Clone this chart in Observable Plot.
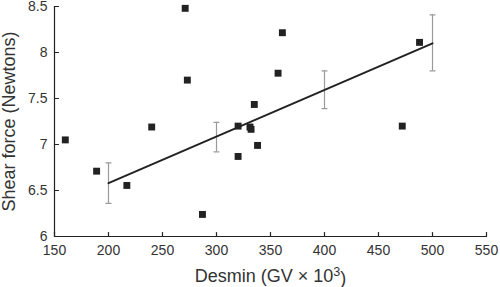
<!DOCTYPE html>
<html>
<head>
<meta charset="utf-8">
<script src="https://cdn.jsdelivr.net/npm/d3@7"></script>
<script src="https://cdn.jsdelivr.net/npm/@observablehq/plot@0.6"></script>
<style>
  html, body { margin: 0; padding: 0; background: #fff; }
  #chart svg { display: block; }
</style>
</head>
<body>
<div id="chart"></div>
<script>
// Scatter data: Desmin (GV × 10³) vs Shear force (Newtons)
const desmin = [160, 189, 217, 240, 271, 273, 287, 320, 331, 332, 335, 338, 320, 357, 361, 472, 488];
const shear  = [7.05, 6.71, 6.555, 7.19, 8.48, 7.70, 6.24, 7.20, 7.19, 7.165, 7.435, 6.99, 6.87, 7.775, 8.215, 7.20, 8.11];

// Regression line endpoints
const fitX = [200, 500];
const fitY = [6.58, 8.10];

// Error bars on the fitted line
const errX  = [200, 300, 400, 500];
const errLo = [6.36, 6.92, 7.39, 7.80];
const errHi = [6.80, 7.24, 7.80, 8.41];

// Tick values
const xTicks = [150, 200, 250, 300, 350, 400, 450, 500, 550];
const yTicks = [6, 6.5, 7, 7.5, 8, 8.5];

const xLabel = "Desmin (GV × 10³)";
const yLabel = "Shear force (Newtons)";

const points = desmin.map((x, i) => ({x, y: shear[i]}));
const fit = fitX.map((x, i) => ({x, y: fitY[i]}));
const errs = errX.map((x, i) => ({x, lo: errLo[i], hi: errHi[i]}));
const caps = errs.flatMap(d => [{x: d.x, y: d.lo}, {x: d.x, y: d.hi}]);

const up = {draw(c, l) { c.moveTo(0, 0); c.lineTo(0, -l); }};

const ink = "#222";
const textInk = "#333";
const errInk = "#9a9a9a";

const chart = Plot.plot({
  width: 500,
  height: 287,
  marginLeft: 54,
  marginRight: 14,
  marginTop: 6,
  marginBottom: 51,
  style: {fontFamily: "'Liberation Sans', Arial, Helvetica, sans-serif", fontSize: "14px", color: textInk, background: "#fff", overflow: "visible"},
  x: {domain: [150, 550]},
  y: {domain: [6, 8.5]},
  marks: [
    Plot.axisX({ticks: xTicks, tickSize: 0, tickPadding: 9, tickFormat: d => String(d),
      label: null, fontSize: 14}),
    Plot.axisY({ticks: yTicks, tickSize: 0, tickPadding: 7, tickFormat: d => String(d),
      label: null, fontSize: 14}),
    Plot.axisX({ticks: [], label: xLabel, labelAnchor: "center", labelArrow: "none", labelOffset: 45, fontSize: 18}),
    Plot.axisY({ticks: [], label: yLabel, labelAnchor: "center", labelArrow: "none", labelOffset: 52, fontSize: 18, dy: -8}),
    // axis lines
    Plot.ruleX([150], {stroke: ink, strokeWidth: 1.2}),
    Plot.ruleY([6], {stroke: ink, strokeWidth: 1.2}),
    // inward ticks
    Plot.vector(xTicks, {x: d => d, y: 6, length: 4, rotate: 0, anchor: "start", shape: up, stroke: ink, strokeWidth: 1.2}),
    Plot.vector(yTicks, {x: 150, y: d => d, length: 4, rotate: 90, anchor: "start", shape: up, stroke: ink, strokeWidth: 1.2}),
    // error bars
    Plot.ruleX(errs, {x: "x", y1: "lo", y2: "hi", stroke: errInk, strokeWidth: 1.2}),
    Plot.vector(caps, {x: "x", y: "y", length: 5, rotate: 90, anchor: "middle", shape: up, stroke: errInk, strokeWidth: 1.2}),
    // regression line
    Plot.line(fit, {x: "x", y: "y", stroke: ink, strokeWidth: 2}),
    // points
    Plot.dot(points, {x: "x", y: "y", symbol: "square", r: 3.9, fill: ink, stroke: "none"})
  ]
});

// Render the exponent as a real raised "3"
const svg = d3.select(chart);
svg.selectAll("text").each(function () {
  const t = d3.select(this);
  if (t.text() === xLabel) {
    t.text(null);
    t.append("tspan").text("Desmin (GV × 10");
    t.append("tspan").attr("dy", "-0.4em").attr("font-size", "0.7em").text("3");
    t.append("tspan").attr("dy", "0.4em").text(")");
  }
});

document.getElementById("chart").appendChild(chart);
</script>
</body>
</html>
